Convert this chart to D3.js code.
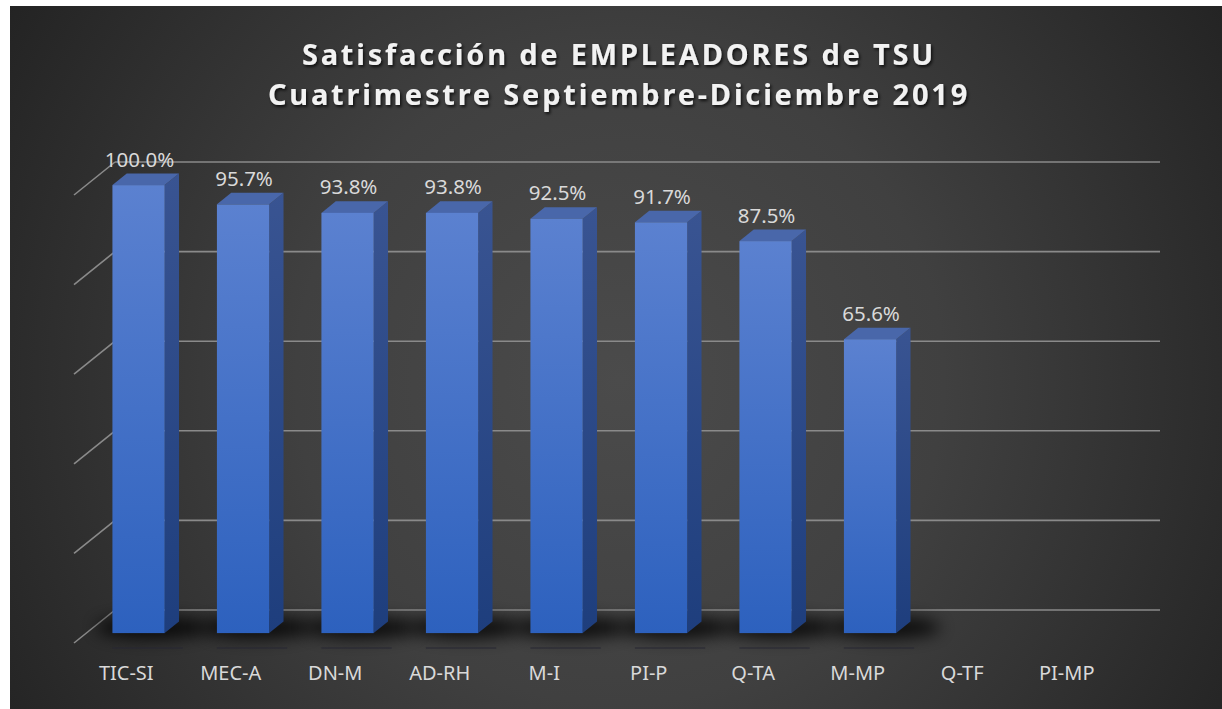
<!DOCTYPE html>
<html>
<head>
<meta charset="utf-8">
<script src="https://cdn.jsdelivr.net/npm/d3@7"></script>
<style>
	html, body { margin: 0; padding: 0; background: #ffffff; }
	svg { display: block; }
</style>
</head>
<body>
<div id="chart"></div>
<script>
(function () {
	// Data
	const categories = ["TIC-SI", "MEC-A", "DN-M", "AD-RH", "M-I", "PI-P", "Q-TA", "M-MP", "Q-TF", "PI-MP"];
	const values = [1.0, 0.957, 0.938, 0.938, 0.925, 0.917, 0.875, 0.656, null, null];
	const gridTicks = [0, 0.2, 0.4, 0.6, 0.8, 1.0];
	const titleLines = ["Satisfacción de EMPLEADORES de TSU", "Cuatrimestre Septiembre-Diciembre 2019"];

	// Layout
	const width = 1222;
	const height = 709;
	const DEPTH_X = 41; // 3D depth vector (front -> back wall)
	const DEPTH_Y = -33;
	const BAR_D0 = 0.3; // bar front depth fraction
	const BAR_D1 = 0.65; // bar back depth fraction

	const FONT = "'Noto Sans', 'Open Sans', sans-serif";
	const LABEL_COLOR = "#D9D9D9";
	const GRID_COLOR = "#8A8A8A";

	const svg = d3.select("#chart")
		.append("svg")
		.attr("width", width)
		.attr("height", height);

	const defs = svg.append("defs");

	// Background gradient
	const bg = defs.append("radialGradient")
		.attr("id", "bgGrad")
		.attr("gradientUnits", "userSpaceOnUse")
		.attr("cx", 620).attr("cy", 380).attr("r", 720);
	bg.append("stop").attr("offset", "0%").attr("stop-color", "#4b4b4b");
	bg.append("stop").attr("offset", "45%").attr("stop-color", "#404040");
	bg.append("stop").attr("offset", "100%").attr("stop-color", "#232323");

	const frontGrad = defs.append("linearGradient")
		.attr("id", "frontGrad").attr("x1", 0).attr("y1", 0).attr("x2", 0).attr("y2", 1);
	frontGrad.append("stop").attr("offset", "0%").attr("stop-color", "#5B81D0");
	frontGrad.append("stop").attr("offset", "100%").attr("stop-color", "#2D61BE");

	const sideGrad = defs.append("linearGradient")
		.attr("id", "sideGrad").attr("x1", 0).attr("y1", 0).attr("x2", 0).attr("y2", 1);
	sideGrad.append("stop").attr("offset", "0%").attr("stop-color", "#395492");
	sideGrad.append("stop").attr("offset", "100%").attr("stop-color", "#1E3E7D");

	const blur = defs.append("filter").attr("id", "shadowBlur")
		.attr("x", "-50%").attr("y", "-150%").attr("width", "200%").attr("height", "400%");
	blur.append("feGaussianBlur").attr("stdDeviation", 8);

	const titleShadow = defs.append("filter").attr("id", "titleShadow")
		.attr("x", "-5%").attr("y", "-30%").attr("width", "110%").attr("height", "160%");
	titleShadow.append("feDropShadow")
		.attr("dx", 1.5).attr("dy", 2).attr("stdDeviation", 1.5)
		.attr("flood-color", "#000").attr("flood-opacity", 0.75);

	svg.append("rect")
		.attr("x", 10).attr("y", 6)
		.attr("width", width - 10).attr("height", height - 6)
		.attr("fill", "url(#bgGrad)");

	// Scales: x on the front plane, y on the back wall
	const x = d3.scaleBand()
		.domain(categories)
		.range([74, 1119])
		.paddingInner(0.5)
		.paddingOuter(0.25);
	const y = d3.scaleLinear().domain([0, 1]).range([610, 162]);

	const [x0, x1] = x.range();
	const bw = x.bandwidth();

	// project a front-plane x, value and depth fraction to screen
	const px = (xf, d) => xf + d * DEPTH_X;
	const py = (v, d) => y(v) - (1 - d) * DEPTH_Y;

	// Back wall gridlines + side wall diagonals
	const grid = svg.append("g").attr("class", "grid");
	grid.selectAll("line.h")
		.data(gridTicks)
		.join("line")
		.attr("class", "h")
		.attr("x1", x0 + DEPTH_X).attr("x2", x1 + DEPTH_X)
		.attr("y1", d => y(d)).attr("y2", d => y(d))
		.attr("stroke", GRID_COLOR).attr("stroke-width", 1.6);
	grid.selectAll("line.d")
		.data(gridTicks)
		.join("line")
		.attr("class", "d")
		.attr("x1", px(x0, 0)).attr("y1", d => py(d, 0))
		.attr("x2", px(x0, 1)).attr("y2", d => py(d, 1))
		.attr("stroke", GRID_COLOR).attr("stroke-width", 1.6);

	const rows = categories.map((c, i) => ({ c, v: values[i] })).filter(d => d.v != null);

	// Shadows under bars
	svg.append("g").selectAll("ellipse")
		.data(rows)
		.join("ellipse")
		.attr("cx", d => px(x(d.c), BAR_D0) + bw / 2 + 14)
		.attr("cy", py(0, BAR_D1) + 6)
		.attr("rx", bw / 2 + 30)
		.attr("ry", 11)
		.attr("fill", "#000")
		.attr("opacity", 0.8)
		.attr("filter", "url(#shadowBlur)");
	svg.append("g").selectAll("line")
		.data(rows)
		.join("line")
		.attr("x1", d => px(x(d.c), BAR_D0))
		.attr("x2", d => px(x(d.c), BAR_D0) + bw + 18)
		.attr("y1", py(0, 0) + 5).attr("y2", py(0, 0) + 5)
		.attr("stroke", "#262633").attr("stroke-width", 1);

	// Bars
	const bars = svg.append("g").attr("class", "bars")
		.selectAll("g")
		.data(rows)
		.join("g");

	bars.append("polygon")
		.attr("fill", "url(#sideGrad)")
		.attr("points", d => {
			const xr = x(d.c) + bw;
			return [
				[px(xr, BAR_D0), py(d.v, BAR_D0)],
				[px(xr, BAR_D1), py(d.v, BAR_D1)],
				[px(xr, BAR_D1), py(0, BAR_D1)],
				[px(xr, BAR_D0), py(0, BAR_D0)],
			].join(" ");
		});

	bars.append("polygon")
		.attr("fill", "#4967AA")
		.attr("points", d => {
			const xl = x(d.c), xr = x(d.c) + bw;
			return [
				[px(xl, BAR_D0), py(d.v, BAR_D0)],
				[px(xr, BAR_D0), py(d.v, BAR_D0)],
				[px(xr, BAR_D1), py(d.v, BAR_D1)],
				[px(xl, BAR_D1), py(d.v, BAR_D1)],
			].join(" ");
		});

	bars.append("rect")
		.attr("x", d => px(x(d.c), BAR_D0))
		.attr("y", d => py(d.v, BAR_D0))
		.attr("width", bw)
		.attr("height", d => py(0, BAR_D0) - py(d.v, BAR_D0))
		.attr("fill", "url(#frontGrad)");

	// Value labels
	bars.append("text")
		.attr("x", d => px(x(d.c), BAR_D0) + bw / 2 + 1)
		.attr("y", d => py(d.v, BAR_D1) - 7)
		.attr("text-anchor", "middle")
		.style("font-family", FONT)
		.style("font-size", "20.5px")
		.style("fill", LABEL_COLOR)
		.text(d => d3.format(".1%")(d.v));

	// Category labels (front plane)
	svg.append("g").selectAll("text")
		.data(categories)
		.join("text")
		.attr("x", d => x(d) + bw / 2)
		.attr("y", 680)
		.attr("text-anchor", "middle")
		.style("font-family", FONT)
		.style("font-size", "20px")
		.style("fill", LABEL_COLOR)
		.text(d => d);

	// Title
	svg.append("g")
		.attr("filter", "url(#titleShadow)")
		.selectAll("text")
		.data(titleLines)
		.join("text")
		.attr("x", 619)
		.attr("y", (d, i) => 65 + i * 40)
		.attr("text-anchor", "middle")
		.style("font-family", FONT)
		.style("font-size", "29px")
		.style("font-weight", 700)
		.style("letter-spacing", "2.8px")
		.style("fill", "#F2F2F2")
		.text(d => d);
})();
</script>
</body>
</html>
